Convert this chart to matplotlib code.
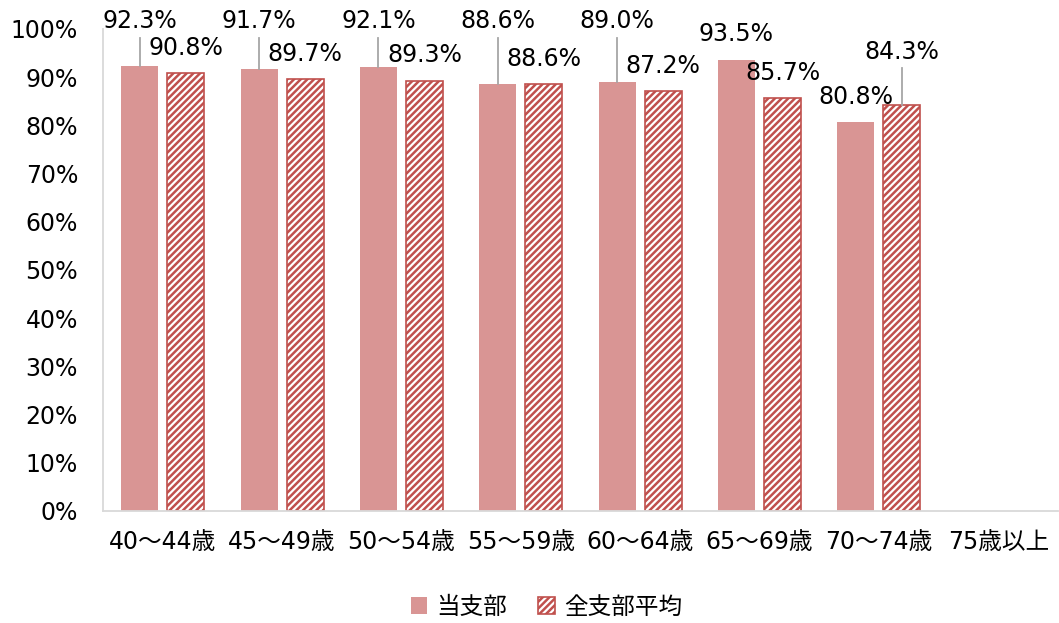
import numpy as np
import matplotlib
matplotlib.use('Agg')
import matplotlib.pyplot as plt

plt.rcParams['font.family'] = ['DejaVu Sans', 'Noto Sans CJK JP']
plt.rcParams['hatch.linewidth'] = 1.8

categories = ['40～44歳', '45～49歳', '50～54歳', '55～59歳', '60～64歳', '65～69歳', '70～74歳', '75歳以上']
branch = [92.3, 91.7, 92.1, 88.6, 89.0, 93.5, 80.8, np.nan]
all_avg = [90.8, 89.7, 89.3, 88.6, 87.2, 85.7, 84.3, np.nan]
series_names = ['当支部', '全支部平均']

# label centre heights (in %) as placed in the original chart
lab1_y = [101.6, 101.6, 101.6, 101.6, 101.6, 98.9, 85.9]
lab2_y = [96.0, 94.9, 94.5, 93.8, 92.4, 90.9, 95.3]

c_fill = '#D99594'
c_edge = '#C0504D'
fs = 17

fig = plt.figure(figsize=(10.59, 6.23), dpi=100)
ax = fig.add_axes([0.0973, 0.1798, 0.9017, 0.7737])

x = np.arange(len(categories))
w = 0.31
off = 0.193
ax.bar(x - off, branch, w, color=c_fill, label=series_names[0])
ax.bar(x + off, all_avg, w, facecolor='white', edgecolor=c_edge, hatch='/////',
       linewidth=1.2, label=series_names[1])

def put_labels(xs, vals, ys):
    for xi, v, ly in zip(xs, vals, ys):
        if np.isnan(v):
            continue
        ax.text(xi, ly, f'{v:.1f}%', ha='center', va='center', fontsize=fs,
                color='#000000', clip_on=False)
        # leader line when the label sits well above its bar
        if ly - v > 7:
            ax.plot([xi, xi], [v, ly - 3.5], color='#A6A6A6', lw=1.3,
                    clip_on=False, zorder=1)

put_labels(x - off, branch, lab1_y)
put_labels(x + off, all_avg, lab2_y)

ax.set_xlim(-0.5, len(categories) - 0.5)
ax.set_ylim(0, 100)
ax.set_yticks(np.arange(0, 101, 10))
ax.set_yticklabels([f'{v}%' for v in range(0, 101, 10)], fontsize=fs)
ax.set_xticks(x)
ax.set_xticklabels(categories, fontsize=fs)
ax.tick_params(axis='y', length=0, pad=18)
ax.tick_params(axis='x', length=0, pad=14)

for s in ['top', 'right']:
    ax.spines[s].set_visible(False)
for s in ['left', 'bottom']:
    ax.spines[s].set_color('#D9D9D9')
    ax.spines[s].set_linewidth(1.3)

fig.legend(loc='center', bbox_to_anchor=(0.516, 0.026), ncol=2, frameon=False,
           fontsize=fs, handlelength=0.7, handleheight=0.7, handletextpad=0.4,
           columnspacing=1.3)

fig.savefig('out.png', dpi=100)
